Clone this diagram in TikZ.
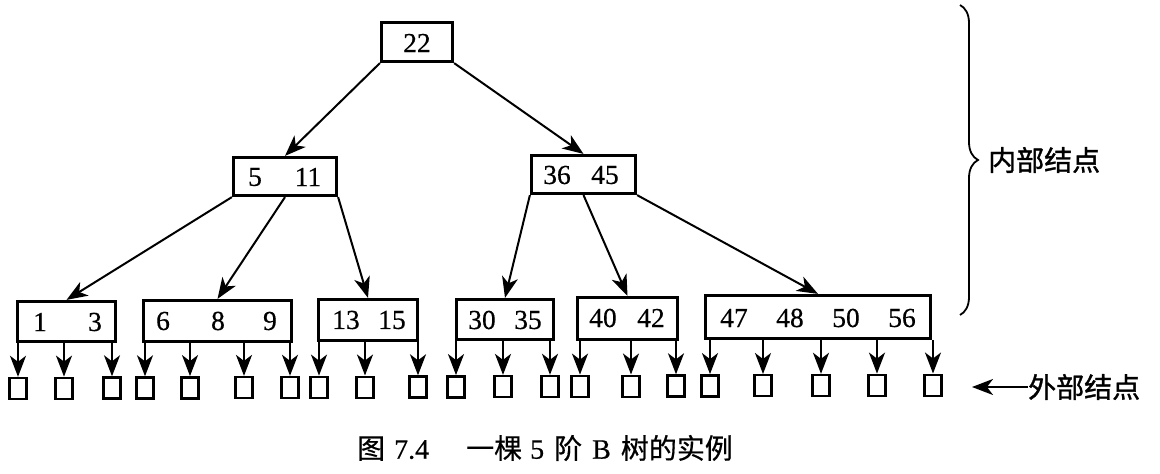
\documentclass[tikz,border=0pt]{standalone}
\usepackage{fontspec}
\setmainfont{Liberation Serif}
\newfontfamily\keyfont[FakeBold=0.5]{Liberation Serif}
\newfontfamily\cjk[FakeBold=0.5]{Noto Sans CJK SC}
\newfontfamily\cjkb[FakeBold=1.2]{Noto Sans CJK SC}
\usetikzlibrary{arrows.meta,decorations.pathreplacing}
\begin{document}
\begin{tikzpicture}[x=1pt,y=-1pt,
  arr/.style={-{Stealth[length=21pt,width=16pt,inset=6pt]}, line width=2pt},
  keybox/.style={draw, line width=3.2pt, inner sep=0pt, rectangle},
  leaf/.style={draw, line width=2.4pt, inner sep=0pt, minimum width=17pt, minimum height=21pt},
  key/.style={inner sep=0pt, font=\keyfont\fontsize{27.5}{27.5}\selectfont},
  lab/.style={inner sep=0pt, anchor=west, font=\cjkb\fontsize{28}{28}\selectfont},
  bracestyle/.style={decorate, decoration={brace, amplitude=18pt}, line width=1.8pt}]

\fill[white] (0,0) rectangle (1160,474);
\useasboundingbox (0,0) rectangle (1160,474);

% internal nodes
\node[keybox, minimum width=71pt, minimum height=39pt] (r) at (417,42) {};
\node[keybox, minimum width=103pt, minimum height=38pt] (a) at (285,176.5) {};
\node[keybox, minimum width=104pt, minimum height=38pt] (b) at (583.5,174.5) {};
\node[keybox, minimum width=98pt, minimum height=40pt] (l1) at (66.5,321.5) {};
\node[keybox, minimum width=148pt, minimum height=41pt] (l2) at (217.5,321) {};
\node[keybox, minimum width=99pt, minimum height=41pt] (l3) at (368,320) {};
\node[keybox, minimum width=97pt, minimum height=40pt] (l4) at (505,319.5) {};
\node[keybox, minimum width=100pt, minimum height=42pt] (l5) at (627.5,318.5) {};
\node[keybox, minimum width=225pt, minimum height=43pt] (l6) at (818,317) {};

% keys
\node[key] (k22) at (417,43) {22};
\node[key] (k5) at (255,177) {5};
\node[key] (k11) at (308,177) {11};
\node[key] (k36) at (557,175) {36};
\node[key] (k45) at (605,175) {45};
\node[key] (k1) at (40,322) {1};
\node[key] (k3) at (95,322) {3};
\node[key] (k6) at (163,321) {6};
\node[key] (k8) at (218,321) {8};
\node[key] (k9) at (270,321) {9};
\node[key] (k13) at (346,320) {13};
\node[key] (k15) at (392,320) {15};
\node[key] (k30) at (482,320) {30};
\node[key] (k35) at (528,320) {35};
\node[key] (k40) at (603,318) {40};
\node[key] (k42) at (651,318) {42};
\node[key] (k47) at (734,318) {47};
\node[key] (k48) at (790,318) {48};
\node[key] (k50) at (846,318) {50};
\node[key] (k56) at (902,318) {56};

% leaves
\node[leaf] (f1) at (18,388.5) {};
\node[leaf] (f2) at (64,388.3) {};
\node[leaf] (f3) at (112,388) {};
\node[leaf] (f4) at (145,388) {};
\node[leaf] (f5) at (190,387.8) {};
\node[leaf] (f6) at (244,387.6) {};
\node[leaf] (f7) at (290,387.5) {};
\node[leaf] (f8) at (319,387.3) {};
\node[leaf] (f9) at (365,387.2) {};
\node[leaf] (f10) at (418,387) {};
\node[leaf] (f11) at (456,386.8) {};
\node[leaf] (f12) at (503,386.6) {};
\node[leaf] (f13) at (550,386.5) {};
\node[leaf] (f14) at (580,386.3) {};
\node[leaf] (f15) at (631,386.2) {};
\node[leaf] (f16) at (676,386) {};
\node[leaf] (f17) at (710,385.8) {};
\node[leaf] (f18) at (763,385.7) {};
\node[leaf] (f19) at (821,385.5) {};
\node[leaf] (f20) at (877,385.3) {};
\node[leaf] (f21) at (933,385.2) {};

% tree connectors
\draw[arr] (r.south west) -- (a.north);
\draw[arr] (r.south east) -- (b.north);
\draw[arr] (a.south west) -- (l1.north);
\draw[arr] (a.south) -- (l2.north);
\draw[arr] (a.south east) -- (l3.north);
\draw[arr] (b.south west) -- (l4.north);
\draw[arr] (b.south) -- (l5.north);
\draw[arr] (b.south east) -- (l6.north);

% leaf connectors
\foreach \p/\f in {l1/f1,l1/f2,l1/f3,l2/f4,l2/f5,l2/f6,l2/f7,l3/f8,l3/f9,l3/f10,
                   l4/f11,l4/f12,l4/f13,l5/f14,l5/f15,l5/f16,
                   l6/f17,l6/f18,l6/f19,l6/f20,l6/f21}
  \draw[arr] (\p.south -| \f.north) -- (\f.north);

% brace and labels
\coordinate (bt) at (960,5);
\coordinate (bb) at (960,315);
\draw[bracestyle] (bt) -- (bb);
\node[lab] (inner) at (988,160) {内部结点};
\node[lab] (outer) at (1028,387) {外部结点};
\coordinate (otip) at (972,387);
\draw[arr] (outer.west) -- (otip);

% caption
\node[inner sep=0pt, font=\keyfont\fontsize{28}{28}\selectfont] (cap) at (545,448)
  {{\cjk 图}\hspace{9pt}7.4\hspace{37pt}{\cjk 一棵}\hspace{8pt}5\hspace{10pt}{\cjk 阶}\hspace{10pt}B\hspace{10pt}{\cjk 树的实例}};
\end{tikzpicture}
\end{document}
